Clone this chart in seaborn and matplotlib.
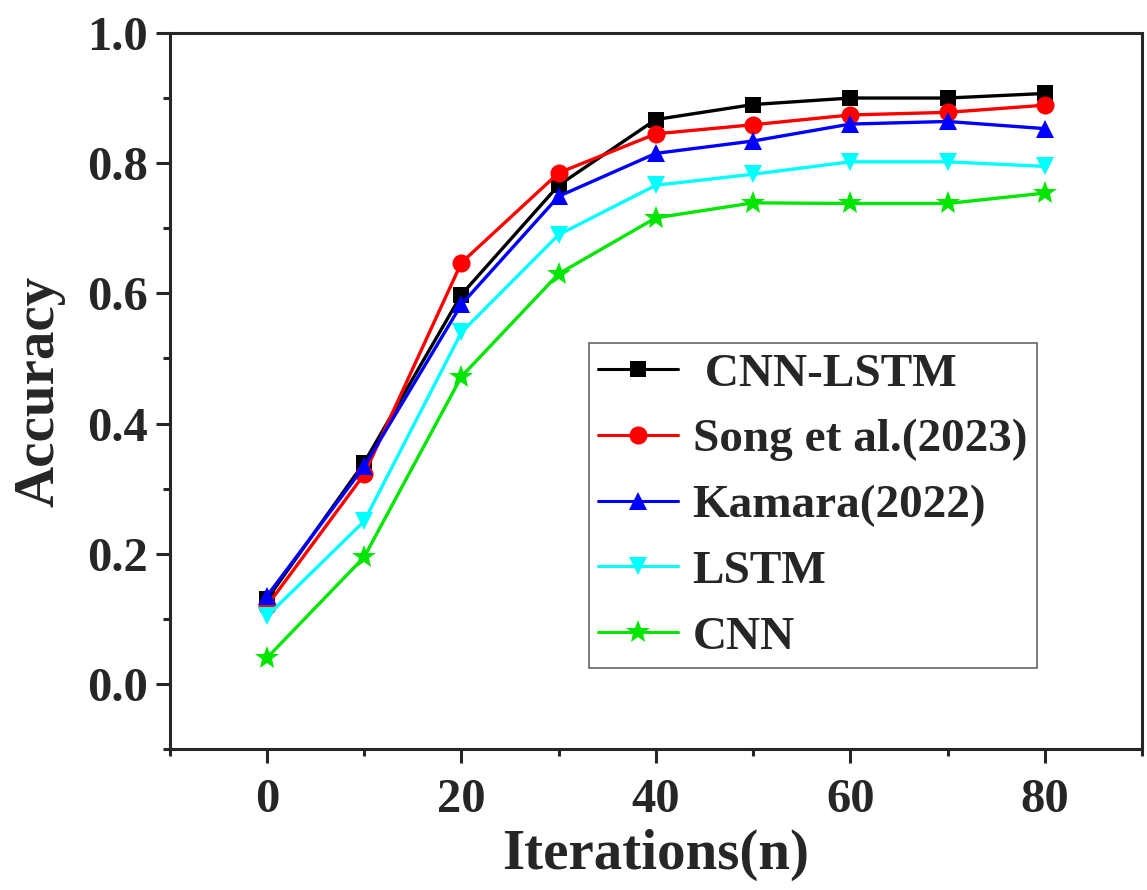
import pandas as pd
import matplotlib
matplotlib.use("Agg")
import matplotlib.pyplot as plt
import seaborn as sns
from matplotlib.ticker import MultipleLocator

# values
iterations = [0, 10, 20, 30, 40, 50, 60, 70, 80]
models = ["CNN-LSTM", "Song et al.(2023)", "Kamara(2022)", "LSTM", "CNN"]
cnn_lstm = [0.13, 0.34, 0.598, 0.766, 0.867, 0.890, 0.900, 0.900, 0.907]
song = [0.12, 0.322, 0.647, 0.785, 0.845, 0.859, 0.874, 0.878, 0.889]
kamara = [0.135, 0.334, 0.583, 0.749, 0.815, 0.834, 0.860, 0.864, 0.853]
lstm = [0.104, 0.25, 0.54, 0.69, 0.766, 0.783, 0.802, 0.802, 0.795]
cnn = [0.04, 0.195, 0.472, 0.630, 0.716, 0.739, 0.738, 0.738, 0.754]
colors = ["black", "red", "blue", "cyan", "#00e600"]
marker_list = ["s", "o", "^", "v", "*"]
marker_sizes = [12, 13, 13, 13, 18]

rows = []
for name, vals in zip(models, [cnn_lstm, song, kamara, lstm, cnn]):
    for it, v in zip(iterations, vals):
        rows.append({"Iterations": it, "Accuracy": v, "Model": name})
df = pd.DataFrame(rows)

sns.set_style("ticks")
plt.rcParams["font.family"] = ["Liberation Serif", "DejaVu Serif"]
plt.rcParams["font.weight"] = "bold"

fig, ax = plt.subplots(figsize=(11.47, 8.9), dpi=100)
fig.subplots_adjust(left=0.148, right=0.9956, bottom=0.1584, top=0.963)

sns.lineplot(data=df, x="Iterations", y="Accuracy", hue="Model", style="Model",
             hue_order=models, style_order=models,
             palette=dict(zip(models, colors)),
             markers=dict(zip(models, marker_list)), dashes=False,
             linewidth=2.4, markersize=13, markeredgewidth=0, ax=ax)

# bigger star markers, as in the reference
for line in ax.lines:
    m = line.get_marker()
    if m in marker_list:
        line.set_markersize(marker_sizes[marker_list.index(m)])

ax.set_xlim(-10, 90)
ax.set_ylim(-0.1, 1.0)
ax.xaxis.set_major_locator(MultipleLocator(20))
ax.xaxis.set_minor_locator(MultipleLocator(10))
ax.yaxis.set_major_locator(MultipleLocator(0.2))
ax.yaxis.set_minor_locator(MultipleLocator(0.1))
ax.set_xticks([0, 20, 40, 60, 80])
ax.set_yticks([0.0, 0.2, 0.4, 0.6, 0.8, 1.0])
ax.set_yticklabels([f"{v:.1f}" for v in [0.0, 0.2, 0.4, 0.6, 0.8, 1.0]])
ax.tick_params(axis="both", which="major", direction="out", length=10, width=2.2,
               labelsize=35, pad=6)
ax.tick_params(axis="x", which="major", pad=11)
ax.tick_params(axis="both", which="minor", direction="out", length=5, width=2.2)
for s in ax.spines.values():
    s.set_linewidth(2.2)
    s.set_visible(True)

ax.set_xlabel("Iterations(n)", fontsize=41, fontweight="bold", labelpad=5)
ax.set_ylabel("Accuracy", fontsize=41, fontweight="bold", labelpad=15)

leg = ax.get_legend()
handles = leg.legend_handles
labels = [" " + models[0]] + models[1:]
leg.remove()
for h, c, m, ms in zip(handles, colors, marker_list, marker_sizes):
    h.set_color(c)
    h.set_marker(m)
    h.set_markersize(ms)
    h.set_markeredgewidth(0)
    h.set_linewidth(2.2)
ax.legend(handles, labels, loc="lower left", bbox_to_anchor=(0.431, 0.113),
          prop={"family": "Liberation Serif", "weight": "bold", "size": 34},
          frameon=True, fancybox=False, edgecolor="#666666", framealpha=1,
          handlelength=1.7, handletextpad=0.3, labelspacing=0.48,
          borderpad=0.2, borderaxespad=0)
ax.get_legend().get_frame().set_linewidth(1.2)

plt.savefig("out.png", dpi=100)
